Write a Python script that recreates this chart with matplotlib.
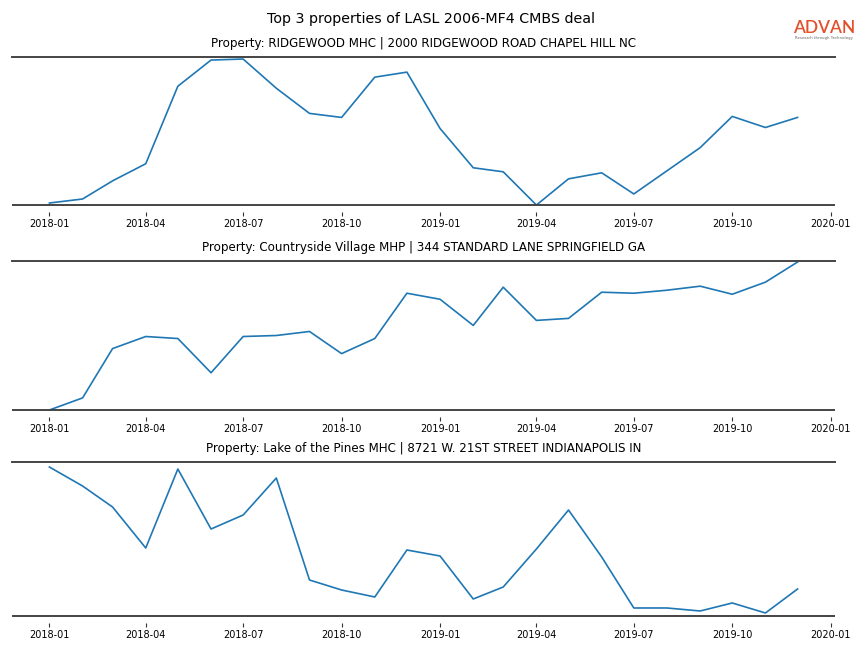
import matplotlib
matplotlib.use("Agg")
import matplotlib.pyplot as plt
import matplotlib.dates as mdates
from matplotlib.lines import Line2D
import pandas as pd

months = pd.date_range("2018-01-01", "2019-12-01", freq="MS")

title_main = "Top 3 properties of LASL 2006-MF4 CMBS deal"
titles = [
    "Property: RIDGEWOOD MHC | 2000 RIDGEWOOD ROAD CHAPEL HILL NC",
    "Property: Countryside Village MHP | 344 STANDARD LANE SPRINGFIELD GA",
    "Property: Lake of the Pines MHC | 8721 W. 21ST STREET INDIANAPOLIS IN",
]

ridgewood = [3, 7, 25, 42, 119, 145, 146, 117, 92, 88, 128, 133,
             77, 38, 34, 1, 27, 33, 12, 35, 58, 89, 78, 88]
countryside = [1, 13, 62, 74, 72, 38, 74, 75, 79, 57, 72, 117,
               111, 85, 123, 90, 92, 118, 117, 120, 124, 116, 128, 148]
lake_pines = [149, 130, 109, 68, 147, 87, 101, 138, 36, 26, 19, 66,
              60, 17, 29, 67, 106, 59, 8, 8, 5, 13, 3, 27]

series = [ridgewood, countryside, lake_pines]
ylims = [(1, 148), (1, 149), (0, 154)]
ticks = pd.date_range("2018-01-01", "2020-01-01", freq="QS")

fig = plt.figure(figsize=(8.64, 6.48), dpi=100)
boxes = [(0.0139, 0.6836, 0.9525, 0.2284),
         (0.0139, 0.3673, 0.9525, 0.2299),
         (0.0139, 0.0494, 0.9525, 0.2376)]

for box, vals, ttl, yl in zip(boxes, series, titles, ylims):
    ax = fig.add_axes(box)
    ax.plot(months, vals, color="#1f77b4", lw=1.2)
    ax.set_ylim(*yl)
    ax.set_xticks(ticks)
    ax.xaxis.set_major_formatter(mdates.DateFormatter("%Y-%m"))
    ax.tick_params(axis="x", labelsize=7, length=3.2, color="#333333",
                   width=0.8, pad=2)
    ax.set_yticks([])
    for s in ("left", "right"):
        ax.spines[s].set_visible(False)
    ax.spines["top"].set_color("#444444")
    ax.spines["top"].set_linewidth(1.4)
    # x-axis (ticks) offset below the frame line
    ax.spines["bottom"].set_position(("outward", 4.8))
    ax.spines["bottom"].set_visible(False)
    ax.add_line(Line2D([0, 1], [0, 0], transform=ax.transAxes, color="#444444",
                       lw=1.4, clip_on=False, solid_capstyle="butt"))
    ax.set_title(ttl, fontsize=8.6, pad=7.5)

fig.text(0.4985, 0.97, title_main, ha="center", va="center", fontsize=10.3)
fig.text(0.9535, 0.957, "ADVAN", ha="center", va="center", fontsize=12.5,
         color="#E2512C", family="Lato", weight="semibold")
fig.text(0.9535, 0.941, "Research through Technology", ha="center", va="center",
         fontsize=2.8, color="#666666")

fig.savefig("out.png", dpi=100)
